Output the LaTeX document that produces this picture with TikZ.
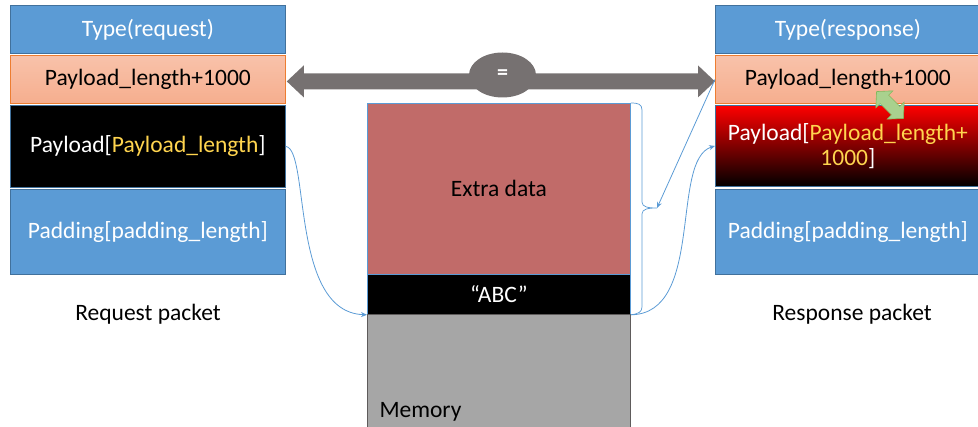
\documentclass[tikz,border=0pt]{standalone}
\usepackage{fontspec}
\setmainfont{Carlito}
\usetikzlibrary{shapes.arrows,shapes.geometric,calc,arrows.meta}
\definecolor{pblue}{HTML}{5B9BD5}
\definecolor{pblueb}{HTML}{41719C}
\definecolor{porange}{HTML}{F6AE8E}
\definecolor{porangeb}{HTML}{ED7D31}
\definecolor{pyellow}{HTML}{FFD54F}
\definecolor{extra}{RGB}{193,107,105}
\definecolor{mgrey}{HTML}{A6A6A6}
\definecolor{agrey}{HTML}{767171}
\definecolor{lblue}{HTML}{5B9BD5}
\definecolor{ggreen}{HTML}{A9D18E}
\definecolor{ggreenb}{HTML}{70AD47}
\tikzset{
  fld/.style={minimum width=275pt, inner sep=0pt, font=\fontsize{23.5}{25}\selectfont, align=center},
  bluefld/.style={fld, fill=pblue, draw=pblueb, line width=0.8pt, text=white},
  orfld/.style={fld, top color=porange!75!white, bottom color=porange, draw=porangeb, line width=0.8pt, text=black},
  blackfld/.style={fld, fill=black, draw=pblueb, line width=0.8pt, text=white},
  lbl/.style={font=\fontsize{23.5}{28}\selectfont, text=black},
  conn/.style={draw=lblue, line width=0.8pt, -{Stealth[length=6pt,width=5pt]}},
}
\begin{document}
\begin{tikzpicture}[x=1pt,y=-1pt]
\useasboundingbox (0,0) rectangle (978,427);
% left packet
\node[bluefld, minimum height=48pt, anchor=north west] (reqtype) at (10,5) {Type(request)};
\node[orfld, minimum height=48pt, anchor=north west] (reqlen) at (10,55) {Payload\_length+1000};
\node[blackfld, minimum height=82pt, anchor=north west] (reqpay) at (10,105) {Payload[\textcolor{pyellow}{Payload\_length}]};
\node[bluefld, minimum height=85pt, anchor=north west] (reqpad) at (10,189) {Padding[padding\_length]};
\node[lbl] (reqlbl) at (148,314) {Request packet};
% right packet
\node[bluefld, minimum width=265pt, minimum height=48pt, anchor=north west] (resptype) at (715,5) {Type(response)};
\node[orfld, minimum width=265pt, minimum height=48pt, anchor=north west] (resplen) at (715,55) {Payload\_length+1000};
\node[fld, minimum width=265pt, minimum height=81pt, anchor=north west, top color=red, bottom color=black, draw=pblueb, line width=0.8pt, text=white] (resppay) at (715,105) {Payload[\textcolor{pyellow}{Payload\_length+}\\\textcolor{pyellow}{1000}]};
\node[bluefld, minimum width=265pt, minimum height=85pt, anchor=north west] (resppad) at (715,189) {Padding[padding\_length]};
\node[lbl] (resplbl) at (852,314) {Response packet};
% memory
\node[fld, minimum width=263pt, minimum height=171pt, anchor=north west, fill=extra, draw=lblue, line width=0.8pt, text=black] (extra) at (367,103) {Extra data};
\node[fld, minimum width=263pt, minimum height=40pt, anchor=north west, fill=black, draw=lblue, line width=0.8pt, text=white] (abc) at (367,274) {“ABC”};
\fill[mgrey] (367,314) rectangle (630,428);
\draw[agrey!80!black, line width=0.8pt] (367,428) -- (367,314) -- (630,314) -- (630,428);
\node[lbl, anchor=south west] (mem) at (376,425) {Memory};
% big double arrow
\coordinate (la) at ($(reqlen.east)+(1,2)$);
\coordinate (ra) at ($(resplen.west)+(0,2)$);
\fill[agrey] (la) -- ++(17,-16) -- ++(0,8) -- ($(ra)+(-17,-8)$) -- ++(0,-8) -- (ra) -- ++(-17,16) -- ++(0,-8) -- ($(la)+(17,8)$) -- ++(0,8) -- cycle;
\node[ellipse, fill=agrey, minimum width=67pt, minimum height=45pt, inner sep=0pt, text=white, font=\fontsize{22}{24}\selectfont\bfseries] (eq) at (502.5,75) {=};
% brace
\coordinate (btip) at (657,208);
\draw[lblue, line width=0.7pt] (extra.north east) .. controls (638,103) and (642,104) .. (642,110) -- (642,202) .. controls (642,207) and (648,208) .. (btip) .. controls (648,208) and (642,209) .. (642,214) -- (642,307) .. controls (642,312) and (638,314) .. (abc.south east);
% connectors
\draw[conn] (resplen.west) -- (btip);
\draw[conn] (reqpay.east) .. controls (310,150) and (290,312) .. (abc.south west);
\draw[conn] (abc.south east) .. controls (705,314) and (670,160) .. (resppay.west);
% green double arrow
\begin{scope}[shift={(890,105)}, rotate=-45]
\filldraw[fill=ggreen, draw=ggreenb!70!ggreen, line width=0.6pt] (-19,0) -- (-8,-12) -- (-8,-6) -- (8,-6) -- (8,-12) -- (19,0) -- (8,12) -- (8,6) -- (-8,6) -- (-8,12) -- cycle;
\end{scope}
\end{tikzpicture}
\end{document}
